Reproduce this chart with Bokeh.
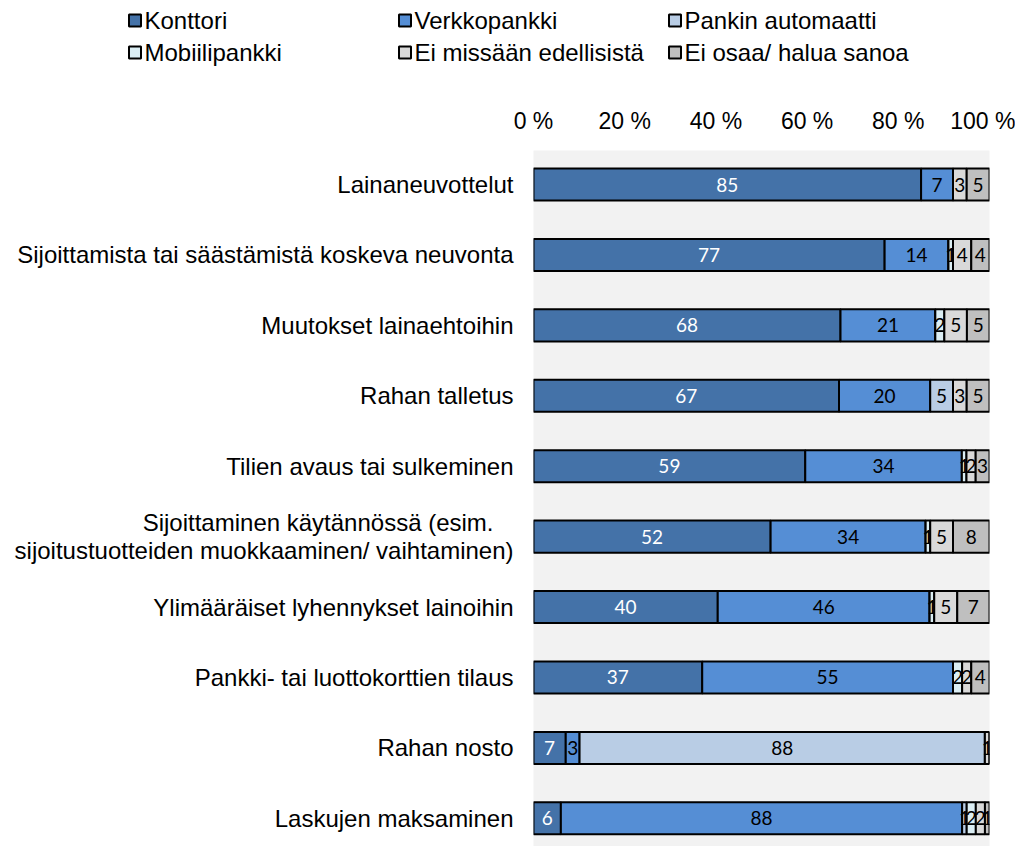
from bokeh.plotting import figure
from bokeh.layouts import column
from bokeh.models import Range1d, FixedTicker, ColumnDataSource
from bokeh.core.properties import value
from bokeh.embed import file_html
from bokeh.resources import INLINE

categories = [
    "Lainaneuvottelut",
    "Sijoittamista tai säästämistä koskeva neuvonta",
    "Muutokset lainaehtoihin",
    "Rahan talletus",
    "Tilien avaus tai sulkeminen",
    "Sijoittaminen käytännössä (esim.\u00a0\u00a0\u00a0\u200b\nsijoitustuotteiden muokkaaminen/ vaihtaminen)",
    "Ylimääräiset lyhennykset lainoihin",
    "Pankki- tai luottokorttien tilaus",
    "Rahan nosto",
    "Laskujen maksaminen",
]
series_names = ["Konttori", "Verkkopankki", "Pankin automaatti",
                "Mobiilipankki", "Ei missään edellisistä", "Ei osaa/ halua sanoa"]
konttori = [85, 77, 68, 67, 59, 52, 40, 37, 7, 6]
verkkopankki = [7, 14, 21, 20, 34, 34, 46, 55, 3, 88]
automaatti = [0, 0, 0, 5, 0, 0, 0, 0, 88, 1]
mobiili = [0, 1, 2, 0, 1, 1, 1, 2, 0, 2]
ei_missaan = [3, 4, 5, 3, 2, 5, 5, 2, 1, 2]
ei_osaa = [5, 4, 5, 5, 3, 8, 7, 4, 0, 1]
tick_values = [0, 20, 40, 60, 80, 100]
tick_labels = ["0 %", "20 %", "40 %", "60 %", "80 %", "100 %"]

colors = ["#4472A8", "#558ED5", "#B9CDE5", "#DBEEF4", "#D9D9D9", "#BFBFBF"]
label_colors = ["white", "black", "black", "black", "black", "black"]
series = [konttori, verkkopankki, automaatti, mobiili, ei_missaan, ei_osaa]

W = 1015
LH = 100
H = 746

# ---- legend strip ----
leg = figure(width=W, height=LH, output_backend="svg", toolbar_location=None,
             x_range=Range1d(0, W), y_range=Range1d(LH, 0),
             min_border=0, min_border_left=0, min_border_right=0,
             min_border_top=0, min_border_bottom=0, frame_align=False)
leg.axis.visible = False
leg.grid.visible = False
leg.outline_line_color = None
leg.background_fill_color = "white"
col_x = [128, 398, 668]
row_cy = [20, 52]
sq_x = [col_x[k % 3] + 6.5 for k in range(6)]
sq_y = [row_cy[k // 3] for k in range(6)]
leg.rect(x=sq_x, y=sq_y, width=12, height=12, fill_color=colors,
         line_color="black", line_width=2)
leg.text(x=[col_x[k % 3] + 16 for k in range(6)], y=sq_y, text=series_names,
         text_align="left", text_baseline="middle",
         text_font=value("Liberation Sans"), text_font_size="24px", text_color="black")

# ---- main chart ----
p = figure(width=W, height=H, output_backend="svg", toolbar_location=None,
           x_range=Range1d(0, 100), y_range=Range1d(9.40, -0.483),
           x_axis_location="above", min_border_left=533, min_border_right=26,
           min_border_top=50, min_border_bottom=0, frame_align=False)
p.background_fill_color = "#F2F2F2"
p.border_fill_color = "white"
p.outline_line_color = None
p.xgrid.visible = False
p.ygrid.visible = False

rows = list(range(len(categories)))
totals = [sum(s[i] for s in series) for i in rows]
cum = [0.0] * len(rows)
for k, s in enumerate(series):
    left = [cum[i] for i in rows]
    right = [cum[i] + s[i] / totals[i] * 100 for i in rows]
    src = ColumnDataSource(dict(y=rows, left=left, right=right))
    p.hbar(y="y", left="left", right="right", height=0.455, source=src,
           fill_color=colors[k], line_color="black", line_width=2)
    lx = [(left[i] + right[i]) / 2 for i in rows if s[i] > 0]
    ly = [i for i in rows if s[i] > 0]
    lt = [str(s[i]) for i in rows if s[i] > 0]
    p.text(x=lx, y=ly, text=lt, text_align="center", text_baseline="middle",
           text_font=value("Lato"), text_font_size="19px", text_color=label_colors[k])
    cum = right

xa = p.xaxis[0]
xa.ticker = FixedTicker(ticks=tick_values)
xa.major_label_overrides = {v: l for v, l in zip(tick_values, tick_labels)}
xa.axis_line_color = None
xa.major_tick_line_color = None
xa.minor_tick_line_color = None
xa.major_label_text_font = "Liberation Sans"
xa.major_label_text_font_size = "23px"
xa.major_label_text_color = "black"
xa.major_label_standoff = 11

ya = p.yaxis[0]
ya.ticker = FixedTicker(ticks=rows)
ya.major_label_overrides = {i: c for i, c in enumerate(categories)}
ya.axis_line_color = None
ya.major_tick_line_color = None
ya.minor_tick_line_color = None
ya.major_label_text_font = "Liberation Sans"
ya.major_label_text_font_size = "24px"
ya.major_label_text_color = "black"
ya.major_label_text_line_height = 1.05
ya.major_label_standoff = 14

layout = column(leg, p, spacing=0)
open("out.html", "w").write(file_html(layout, INLINE))
